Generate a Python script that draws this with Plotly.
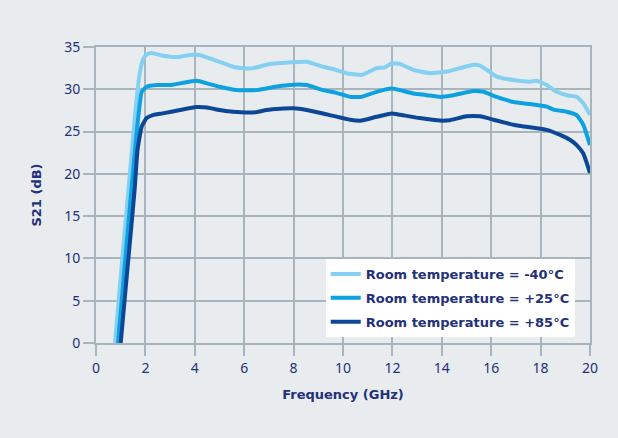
import plotly.graph_objects as go

# S21 gain vs frequency for three room temperatures
freq_m40 = [0.77, 1.05, 1.31, 1.55, 1.75, 1.9, 2.05, 2.25, 2.59, 3.0, 3.4, 3.8, 4.2, 4.6, 5.0,
            5.55, 5.95, 6.36, 6.9, 7.45, 8.0, 8.53, 9.2, 9.7, 10.15, 10.76, 11.0, 11.36, 11.7,
            11.97, 12.3, 12.85, 13.52, 14.2, 14.74, 15.28, 15.55, 15.82, 16.22, 16.9, 17.57,
            17.84, 18.25, 18.65, 19.06, 19.46, 19.73, 20.0]
s21_m40 = [0.0, 9.5, 18.0, 26.0, 31.5, 33.5, 34.1, 34.3, 34.05, 33.85, 33.85, 34.05, 34.05, 33.65,
           33.25, 32.67, 32.5, 32.5, 32.9, 33.1, 33.2, 33.26, 32.67, 32.3, 31.9, 31.7, 32.0, 32.5,
           32.6, 33.07, 33.0, 32.3, 31.9, 32.1, 32.5, 32.9, 32.8, 32.3, 31.5, 31.1, 30.9, 31.0,
           30.5, 29.7, 29.3, 29.1, 28.35, 27.0]

freq_p25 = [0.89, 1.16, 1.43, 1.65, 1.85, 2.05, 2.45, 3.0, 3.4, 4.07, 4.5, 5.0, 5.7, 6.1, 6.5,
            6.9, 7.45, 8.0, 8.53, 9.2, 9.7, 10.3, 10.76, 11.36, 11.97, 12.3, 12.85, 13.4, 13.93,
            14.47, 15.28, 15.69, 16.22, 16.9, 17.57, 18.25, 18.52, 19.06, 19.46, 19.73, 20.0]
s21_p25 = [0.0, 9.0, 18.0, 25.0, 29.7, 30.3, 30.5, 30.5, 30.7, 31.0, 30.7, 30.3, 29.9, 29.9, 29.9,
           30.1, 30.4, 30.55, 30.5, 29.9, 29.6, 29.1, 29.1, 29.7, 30.1, 29.9, 29.5, 29.3, 29.1,
           29.3, 29.8, 29.7, 29.1, 28.5, 28.26, 27.95, 27.6, 27.35, 26.95, 25.8, 23.4]

freq_p85 = [1.0, 1.28, 1.56, 1.68, 1.85, 2.05, 2.3, 2.7, 3.4, 4.07, 4.5, 5.0, 5.55, 6.1, 6.5,
            6.9, 7.45, 8.0, 8.53, 9.47, 10.28, 10.76, 11.36, 11.97, 12.3, 13.1, 13.93, 14.33,
            15.0, 15.55, 16.1, 16.9, 17.57, 17.84, 18.25, 18.79, 19.2, 19.46, 19.73, 20.0]
s21_p85 = [0.0, 9.0, 18.0, 22.8, 25.6, 26.6, 26.95, 27.15, 27.55, 27.9, 27.85, 27.55, 27.35, 27.25,
           27.3, 27.55, 27.7, 27.75, 27.55, 26.95, 26.4, 26.3, 26.75, 27.15, 27.0, 26.6, 26.3,
           26.35, 26.8, 26.8, 26.4, 25.8, 25.5, 25.4, 25.2, 24.6, 24.0, 23.4, 22.4, 20.1]

x_ticks = [0, 2, 4, 6, 8, 10, 12, 14, 16, 18, 20]
y_ticks = [0, 5, 10, 15, 20, 25, 30, 35]

NAVY = "#23307a"
GRID = "#a9b5bd"
BG = "#e8ecef"
BOLD_FONT = "DejaVu Sans"

series = [
    ("Room temperature = -40°C", freq_m40, s21_m40, "#84d0f2"),
    ("Room temperature = +25°C", freq_p25, s21_p25, "#0ea1e2"),
    ("Room temperature = +85°C", freq_p85, s21_p85, "#0b4796"),
]

fig = go.Figure()
for name, fx, fy, color in series:
    fig.add_trace(go.Scatter(
        x=fx, y=fy, name=name, mode="lines", legendgroup=name,
        line=dict(color=color, width=4, shape="spline", smoothing=0.4),
    ))

axis_common = dict(
    showgrid=True, gridcolor=GRID, gridwidth=2,
    showline=True, linecolor=GRID, linewidth=2, mirror=True,
    ticks="outside", ticklen=11, tickwidth=2, tickcolor=GRID,
    zeroline=False,
    tickfont=dict(family="Noto Sans", size=14, color=NAVY),
)

fig.update_xaxes(
    range=[0, 20], tickvals=x_ticks, ticktext=[str(v) for v in x_ticks],
    title=dict(text="<b>Frequency (GHz)</b>", font=dict(family=BOLD_FONT, size=13, color=NAVY),
               standoff=14),
    **axis_common,
)
fig.update_yaxes(
    range=[0, 35], tickvals=y_ticks, ticktext=[str(v) for v in y_ticks],
    title=dict(text="<b>S21 (dB)</b>", font=dict(family=BOLD_FONT, size=13, color=NAVY),
               standoff=20),
    **axis_common,
)

fig.update_layout(
    width=618, height=438,
    margin=dict(l=96, r=28, t=47, b=95),
    paper_bgcolor=BG, plot_bgcolor=BG,
    showlegend=True,
    legend=dict(
        x=0.465, y=0.284, xanchor="left", yanchor="top",
        bgcolor="white", borderwidth=0,
        font=dict(family=BOLD_FONT, size=13, color=NAVY, weight="bold"),
        tracegroupgap=4, traceorder="grouped",
    ),
)

fig.write_html("out.html")
